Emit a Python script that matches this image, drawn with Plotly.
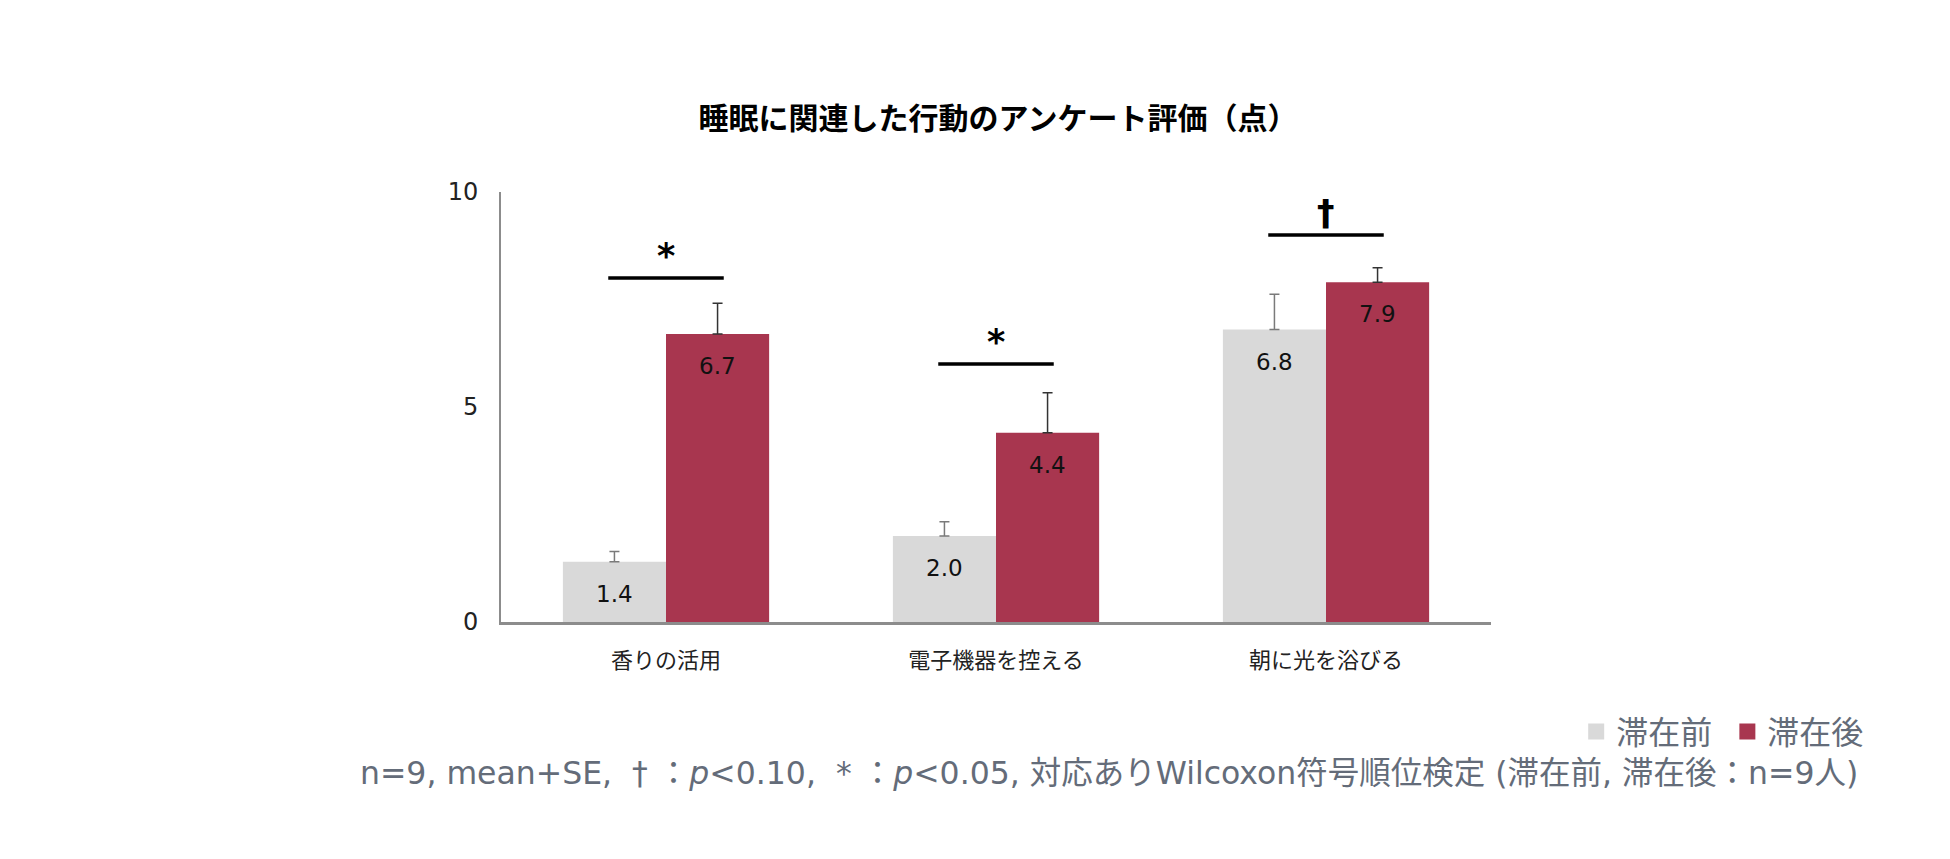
import plotly.graph_objects as go

# ─── Data ─────────────────────────────────────────────
categories = ["香りの活用", "電子機器を控える", "朝に光を浴びる"]
before_mean = [1.4, 2.0, 6.8]
before_se = [0.24, 0.33, 0.82]
after_mean = [6.7, 4.4, 7.9]
after_se = [0.71, 0.93, 0.34]
sig_y = [8.0, 6.0, 9.0]
sig_marks = ["*", "*", "†"]
y_ticks = [0, 5, 10]
series_names = ["滞在前", "滞在後"]

GRAY = "#d9d9d9"
RED = "#a8364f"
FONT = "DejaVu Sans, Noto Sans CJK JP, sans-serif"
NOTE_COLOR = "#646c79"
NB = "\u00a0"

fig = go.Figure()
fig.add_trace(go.Bar(
    name=series_names[0], x=categories, y=before_mean, showlegend=False,
    marker=dict(color=GRAY, line=dict(width=0)),
    error_y=dict(type="data", array=before_se, symmetric=False, arrayminus=[0] * 3,
                 color="#7a7a7a", thickness=1.5, width=5),
))
fig.add_trace(go.Bar(
    name=series_names[1], x=categories, y=after_mean, showlegend=False,
    marker=dict(color=RED, line=dict(width=0)),
    error_y=dict(type="data", array=after_se, symmetric=False, arrayminus=[0] * 3,
                 color="#333333", thickness=1.5, width=5),
))
# legend entries with bigger square swatches (extra space after the first one)
for name, col in ((series_names[0] + NB, GRAY), (series_names[1], RED)):
    fig.add_trace(go.Scatter(
        x=[None], y=[None], mode="markers", name=name,
        marker=dict(symbol="square", size=17, color=col),
    ))

# bar offset inside a group: (1 - bargap) / 4
off = (1 - 0.375) / 4

annotations = []
for i, (b, a) in enumerate(zip(before_mean, after_mean)):
    for x, v in ((i - off, b), (i + off, a)):
        annotations.append(dict(
            x=x, y=v, xref="x", yref="y", text=f"{v:.1f}", showarrow=False,
            yshift=-32, yanchor="middle", font=dict(size=23, color="#111111", family=FONT),
        ))

shapes = []
for i, (sy, mark) in enumerate(zip(sig_y, sig_marks)):
    shapes.append(dict(type="line", xref="x", yref="y", x0=i - 0.175, x1=i + 0.175,
                       y0=sy, y1=sy, line=dict(color="black", width=3.5)))
    annotations.append(dict(
        x=i, y=sy, xref="x", yref="y", text=f"<b>{mark}</b>", showarrow=False,
        yshift=22, yanchor="middle", font=dict(size=35, color="black", family=FONT),
    ))

note = (f"n=9, mean+SE,{NB} †{NB}：<i>p</i><0.10,{NB} *{NB}：<i>p</i><0.05, "
        "対応ありWilcoxon符号順位検定 (滞在前, 滞在後：n=9人)")
annotations.append(dict(
    x=1.373, y=-0.352, xref="paper", yref="paper", xanchor="right", yanchor="middle",
    showarrow=False, text=note,
    font=dict(size=31.5, color=NOTE_COLOR, family=FONT),
))

fig.update_layout(
    width=1950, height=859,
    margin=dict(l=493, r=467, t=184, b=245),
    paper_bgcolor="white", plot_bgcolor="white",
    barmode="group", bargap=0.375, bargroupgap=0,
    title=dict(text="<b>睡眠に関連した行動のアンケート評価（点）</b>",
               x=0.5077, xanchor="center", y=0.871, yanchor="middle",
               font=dict(size=30, color="black", family="Noto Sans CJK JP")),
    font=dict(family=FONT, color="#222222"),
    showlegend=True,
    legend=dict(orientation="h", x=1.382, xanchor="right", y=-0.255, yanchor="middle",
                font=dict(size=32, color=NOTE_COLOR, family=FONT),
                itemwidth=30, traceorder="normal", bgcolor="rgba(0,0,0,0)"),
    xaxis=dict(showline=True, linecolor="#8c8c8c", linewidth=2.5, ticks="",
               showgrid=False, range=[-0.5, 2.5],
               tickfont=dict(size=22, color="#222222", family=FONT),
               ticklabelstandoff=17),
    yaxis=dict(showline=True, linecolor="#8c8c8c", linewidth=2, ticks="",
               showgrid=False, zeroline=False, range=[0, 10],
               tickvals=y_ticks, ticktext=[str(t) for t in y_ticks],
               tickfont=dict(size=24, color="#222222", family=FONT),
               ticklabelstandoff=16),
    annotations=annotations,
    shapes=shapes,
)

fig.write_html("out.html")
